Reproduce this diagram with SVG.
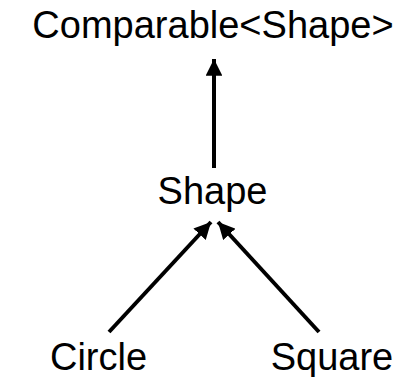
<svg xmlns="http://www.w3.org/2000/svg" width="414" height="377" viewBox="0 0 414 377">
<defs>
<style>
text{font-family:"Liberation Sans",Arial,sans-serif;font-size:38px;fill:#000;text-anchor:middle}
.c{stroke:#000;stroke-width:4;fill:none}
</style>
<marker id="ah" viewBox="0 0 10 10" refX="10" refY="5" markerWidth="4.2" markerHeight="4.2" markerUnits="strokeWidth" orient="auto"><path d="M0,0L10,5L0,10z" fill="#000"/></marker>
</defs>
<rect width="414" height="377" fill="#fff"/>
<g id="comparable"><text x="213" y="38">Comparable&lt;Shape&gt;</text></g>
<g id="shape"><text x="212.5" y="204">Shape</text></g>
<g id="circle"><text x="98.5" y="370">Circle</text></g>
<g id="square"><text x="332" y="370">Square</text></g>
<g id="connectors">
<line class="c" x1="214" y1="168" x2="214" y2="59" marker-end="url(#ah)"/>
<line class="c" x1="109" y1="332" x2="211" y2="222" marker-end="url(#ah)"/>
<line class="c" x1="319" y1="332" x2="218" y2="222" marker-end="url(#ah)"/>
</g>
</svg>
